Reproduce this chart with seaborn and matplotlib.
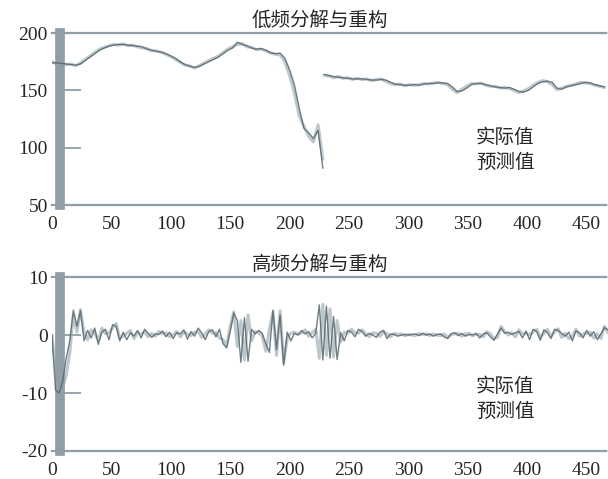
import matplotlib
matplotlib.use('Agg')
import matplotlib.pyplot as plt
import seaborn as sns
import pandas as pd

# low frequency part, split in two pieces at the gap near x=228
lo_x1 = list(range(0, 229, 4))
lo_x2 = list(range(229, 466, 4))
lo_actual1 = [174, 174, 173.5, 173, 172.5, 172, 173, 176, 179, 182,
              185, 187, 188.5, 189.5, 190, 190, 189.5, 189, 188.5, 188,
              186, 185, 184, 183.5, 182, 180, 178, 175, 172.5, 171,
              170, 171, 173, 175, 177, 179, 182, 185, 187, 192,
              190, 189, 187, 186, 186.5, 185, 183, 182, 182.5, 178,
              168, 155, 135, 117, 113, 108, 115, 82]
lo_pred1 = [175, 173, 174, 172.5, 173, 171.5, 174, 177, 180, 183,
            186, 187.5, 189, 190, 189.5, 190.5, 189, 189.5, 188, 187,
            186.5, 184.5, 184.5, 183, 181.5, 179.5, 177, 174.5, 172, 171.5,
            169.5, 171.5, 174, 176, 178, 180, 183, 186, 188, 190,
            191, 188, 187.5, 185.5, 186, 184.5, 182.5, 181.5, 181, 175,
            163, 148, 128, 119, 110, 105, 120, 90]
lo_actual2 = [164, 163, 162, 161.5, 161, 160.5, 160, 160, 160, 159.5,
              159, 159, 159.5, 159, 157, 155.5, 155, 154.5, 154.5, 155,
              154.5, 155.5, 156, 156, 156.5, 156.5, 156, 153, 149, 149.5,
              152, 155, 156, 156, 155, 154, 153, 152.5, 152, 152.5,
              151, 149, 148.5, 150, 153, 156, 157.5, 158, 157, 152,
              151, 153, 154, 155, 156, 157, 156.5, 155, 154, 153]
lo_pred2 = [163, 162.5, 161, 162, 160.5, 161, 159.5, 160.5, 159.5, 160,
            158.5, 159.5, 160, 158, 156, 155, 155.5, 154, 155, 154.5,
            155, 156, 155.5, 156.5, 157, 156, 155, 151, 148, 151,
            153.5, 156, 155.5, 156.5, 154.5, 153.5, 153.5, 152, 152.5, 151.5,
            150, 148, 149.5, 151.5, 154.5, 157, 158.5, 157.5, 155, 150.5,
            152, 153.5, 154.5, 155.5, 157, 156.5, 156, 154.5, 153.5, 152.5]

# high frequency part
hi_x = list(range(0, 469, 3))
hi_actual = [0, -9.5, -10, -8, -4, -1, 4.3, 1.5, 4.2, -1,
             0.8, -0.5, 1.2, -1.6, 0.5, 1.0, -0.8, 1.8, 1.5, -1.0,
             0.5, -0.8, 0.4, -0.2, 0.8, -0.5, 1.0, 0.3, -0.4, 0.2,
             0.1, 0.7, -0.3, 0.5, -0.6, 0.4, 0.2, 0.9, -0.7, 0.6,
             -0.2, 1.2, 0.4, -0.8, 0.6, 0.9, -0.3, 1.0, -1.5, -2.2,
             0.6, 3.8, 2.5, -4.7, 3.0, -4.5, 1.0, 0.2, 0.8, 0.3,
             -1.5, -3.0, 4.3, -2.5, 3.5, -5.2, 0.5, -1.0, 0.3, 0.0,
             0.8, 0.2, 0.6, -0.5, 0.3, 5.2, -4.3, 5.0, -4.0, 3.2,
             -4.2, 0.4, -1.0, 0.8, 0.5, -0.3, 1.0, 0.6, -0.2, 0.3,
             0.0, -0.4, 0.5, 0.8, -0.6, 0.2, 0.1, -0.2, 0.0, 0.1,
             0.0, 0.1, 0.2, -0.1, 0.3, 0.0, 0.2, -0.2, 0.1, 0.2,
             -0.3, -0.6, 0.2, 0.4, -0.1, 0.3, -0.2, 0.1, 0.0, 0.3,
             -0.5, 0.2, 0.4, -0.3, -0.9, 0.2, 1.2, 0.3, 0.5, 0.1,
             0.4, 0.6, -0.5, 0.7, -0.8, 1.0, 0.6, -0.9, 0.9, 0.4,
             -0.6, 1.0, 0.8, 0.3, -0.2, 0.5, -1.0, 0.7, 0.4, -0.5,
             0.8, -0.2, 0.6, -0.8, 0.2, 1.3, 0.9]
hi_pred = [0, -6, -10.2, -9, -7, -3, 3.5, 0.5, 4.4, 0.5,
           -0.8, 0.9, 0.3, -1.0, 1.2, 0.2, 0.4, 1.2, 2.0, -0.5,
           -0.2, 0.3, 0.8, -0.6, 0.4, 0.2, 0.5, -0.3, 0.3, -0.2,
           0.6, 0.2, 0.4, -0.3, 0.1, 0.6, -0.3, 0.5, 0.2, -0.1,
           0.5, 0.6, -0.4, 0.2, 0.9, 0.3, 0.4, -0.5, -0.8, -1.8,
           1.5, 4.0, -2.0, 2.5, -4.3, 3.5, -1.0, 0.6, 0.4, -0.2,
           -2.8, 1.0, 4.0, -3.5, 4.2, -4.8, -0.5, 0.3, 0.5, 0.2,
           0.3, 0.9, -0.2, 0.4, 1.0, -4.0, 5.3, -3.5, 4.5, -3.8,
           2.5, -1.2, 0.5, 0.3, 1.0, 0.4, 0.3, 0.9, 0.2, -0.3,
           0.4, 0.3, -0.2, 0.6, 0.2, -0.3, 0.3, 0.1, 0.2, -0.1,
           0.1, 0.0, -0.1, 0.3, 0.1, 0.2, -0.1, 0.2, 0.0, -0.1,
           0.2, -0.4, 0.1, 0.2, 0.3, -0.2, 0.2, 0.3, -0.1, 0.1,
           0.1, -0.3, 0.6, 0.2, -0.6, -0.4, 1.5, 0.6, 0.0, 0.4,
           -0.3, 0.9, 0.2, 0.3, 0.1, 0.5, 1.0, -0.4, 0.3, 1.0,
           -0.2, 0.5, 1.1, -0.4, 0.3, -0.6, -0.2, 1.0, -0.2, 0.2,
           0.3, 0.5, -0.5, 0.2, -0.6, 1.5, 0.4]

titles = ['低频分解与重构', '高频分解与重构']
labels = ['实际值', '预测值']

lo_df = pd.DataFrame({'x': lo_x1 + lo_x2,
                      'actual': lo_actual1 + lo_actual2,
                      'pred': lo_pred1 + lo_pred2,
                      'seg': [0] * len(lo_x1) + [1] * len(lo_x2)})
hi_df = pd.DataFrame({'x': hi_x, 'actual': hi_actual, 'pred': hi_pred, 'seg': 0})

sns.set_style('white')
plt.rcParams['font.family'] = ['Liberation Serif', 'Noto Sans CJK SC']
plt.rcParams['font.size'] = 14
plt.rcParams['axes.unicode_minus'] = False

fig = plt.figure(figsize=(6.08, 4.79), dpi=100)
ax1 = fig.add_axes([0.0855, 0.572, 0.9145, 0.359])
ax2 = fig.add_axes([0.0855, 0.0585, 0.9145, 0.363])

spine_c = '#8f9ea7'
line_c = '#56666f'
pred_c = '#a3b0b6'

for ax, df, title, yt, leg_y in [(ax1, lo_df, titles[0], [50, 100, 150, 200], 0.32),
                                  (ax2, hi_df, titles[1], [-20, -10, 0, 10], 0.30)]:
    sns.lineplot(data=df, x='x', y='actual', units='seg', estimator=None,
                 color=line_c, lw=1.0, alpha=0.85, ax=ax, zorder=3)
    sns.lineplot(data=df, x='x', y='pred', units='seg', estimator=None,
                 color=pred_c, lw=2.2, alpha=0.7, ax=ax, zorder=2)
    ax.set_xlim(0, 468)
    ax.set_ylim(yt[0], yt[-1])
    ax.set_yticks(yt)
    ax.set_xticks(range(0, 451, 50))
    ax.set_xlabel('')
    ax.set_ylabel('')
    ax.set_title(title, x=0.482, pad=5, fontsize=14)
    ax.spines['right'].set_visible(False)
    ax.spines['left'].set_position(('data', 7))
    ax.spines['left'].set_linewidth(7)
    ax.spines['left'].set_color(spine_c)
    for s in ['top', 'bottom']:
        ax.spines[s].set_linestyle((0, (1, 0.8)))
        ax.spines[s].set_linewidth(1.6)
        ax.spines[s].set_color(spine_c)
    ax.tick_params(axis='y', left=True, direction='in', length=15, width=1.3,
                   color=spine_c, pad=9, labelsize=14)
    ax.tick_params(axis='x', bottom=False, length=0, pad=8, labelsize=14)
    # one legend row per series (the low panel has two line pieces per series)
    lines = ax.get_lines()
    ax.legend([lines[0], lines[-1]], labels, loc='center', bbox_to_anchor=(0.815, leg_y),
              frameon=False, handlelength=0, handletextpad=0, labelspacing=0.2,
              prop={'family': ['Noto Sans CJK SC'], 'size': 14})

fig.savefig('out.png', dpi=100)
